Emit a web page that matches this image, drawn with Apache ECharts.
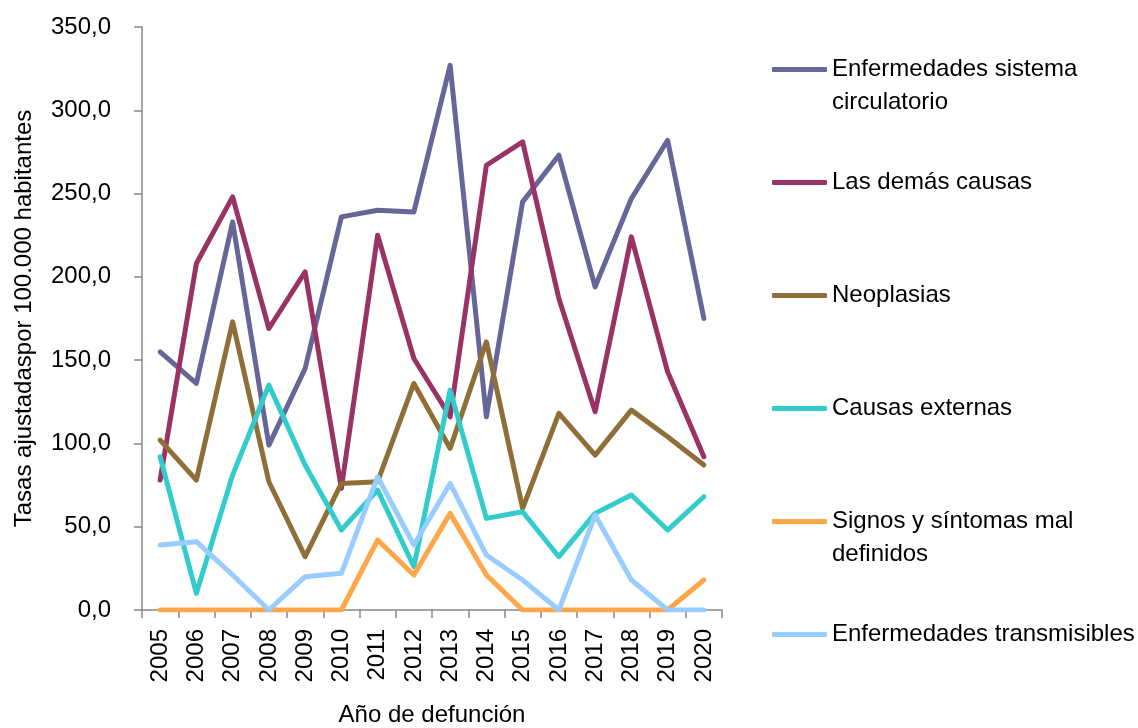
<!DOCTYPE html>
<html>
<head>
<meta charset="utf-8">
<script src="https://cdn.jsdelivr.net/npm/echarts@6/dist/echarts.min.js"></script>
<style>
html,body{margin:0;padding:0;background:#fff;}
#chart{width:1138px;height:728px;}
</style>
</head>
<body>
<div id="chart"></div>
<script>
const years = ['2005','2006','2007','2008','2009','2010','2011','2012','2013','2014','2015','2016','2017','2018','2019','2020'];
const seriesNames = ['Enfermedades sistema\ncirculatorio','Las demás causas','Neoplasias','Causas externas','Signos y síntomas mal\ndefinidos','Enfermedades transmisibles'];
const circulatorio = [155,136,233,99,145,236,240,239,327,116,245,273,194,247,282,175];
const demasCausas = [78,208,248,169,203,73,225,151,116,267,281,187,119,224,143,92];
const neoplasias = [102,78,173,77,32,76,77,136,97,161,61,118,93,120,104,87];
const causasExternas = [92,10,81,135,87,48,72,26,132,55,59,32,58,69,48,68];
const signosSintomas = [0,0,0,0,0,0,42,21,58,21,0,0,0,0,0,18];
const transmisibles = [39,41,21,0,20,22,80,39,76,33,18,0,57,18,0,0];
const yTicks = {min:0, max:350, interval:50};
const colors = ['#666699','#993366','#8F6F37','#33CCCC','#FFA64A','#99CCFF'];

const FONT = "'Liberation Sans',Arial,sans-serif";
const FS = 24;
const values = [circulatorio, demasCausas, neoplasias, causasExternas, signosSintomas, transmisibles];

const chart = echarts.init(document.getElementById('chart'));
chart.setOption({
  animation:false,
  backgroundColor:'#ffffff',
  color:colors,
  textStyle:{fontFamily:FONT},
  grid:{left:142, right:416, top:27, bottom:118, containLabel:false, outerBoundsMode:'none'},
  legend:{
    orient:'vertical', left:772, top:20, padding:0,
    itemWidth:55, itemHeight:5, itemGap:14,
    icon:'roundRect',
    data:seriesNames,
    formatter:function(n){ return n.indexOf('\n')>=0 ? ' \n'+n : ' \n'+n+'\n '; },
    textStyle:{fontFamily:FONT, fontSize:FS, color:'#000', lineHeight:33}
  },
  xAxis:{
    type:'category', data:years, boundaryGap:true,
    name:'Año de defunción', nameLocation:'middle', nameGap:93,
    nameTextStyle:{fontFamily:FONT, fontSize:FS, color:'#000'},
    axisLine:{lineStyle:{color:'#888888', width:1.5}},
    axisTick:{show:true, length:8, alignWithLabel:false, lineStyle:{color:'#888888', width:1.5}},
    axisLabel:{rotate:90, margin:19, fontFamily:FONT, fontSize:FS, color:'#000', interval:0},
    splitLine:{show:false}
  },
  yAxis:{
    type:'value', min:yTicks.min, max:yTicks.max, interval:yTicks.interval,
    name:'Tasas ajustadaspor 100.000 habitantes', nameLocation:'middle', nameGap:106, nameRotate:90,
    nameTextStyle:{fontFamily:FONT, fontSize:FS, color:'#000'},
    axisLine:{show:true, lineStyle:{color:'#888888', width:1.5}},
    axisTick:{show:true, length:8, lineStyle:{color:'#888888', width:1.5}},
    axisLabel:{margin:31, fontFamily:FONT, fontSize:FS, color:'#000',
      formatter:function(v){ return v.toFixed(1).replace('.',','); }},
    splitLine:{show:false}
  },
  series: seriesNames.map(function(n,i){
    return {
      name:n, type:'line', data:values[i], symbol:'none', showSymbol:false,
      lineStyle:{width:5, color:colors[i], cap:'round', join:'round'},
      itemStyle:{color:colors[i]}
    };
  })
});
</script>
</body>
</html>
